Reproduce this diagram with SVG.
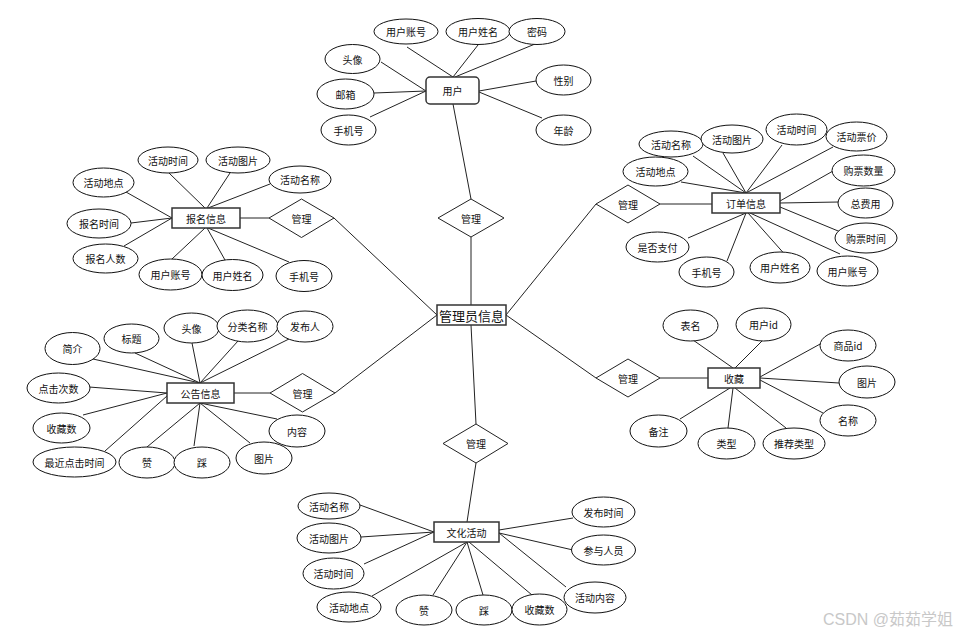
<svg xmlns="http://www.w3.org/2000/svg" width="972" height="637" viewBox="0 0 972 637">
<style>
.bg{fill:#fff}
.c path{stroke:#222;stroke-width:1;fill:none}
.e{fill:#fff;stroke:#111;stroke-width:1}
.r{fill:#fff;stroke:#333;stroke-width:1.5}
.d{fill:#fff;stroke:#222;stroke-width:1}
text{font-family:"Noto Sans CJK SC","Liberation Sans",sans-serif;font-size:10px;fill:#111;text-anchor:middle;dominant-baseline:central}
.big{font-size:13px}
.wm{font-family:"Liberation Sans","Noto Sans CJK SC",sans-serif;font-size:16px;fill:#c8c8c8;text-anchor:start;dominant-baseline:auto}
</style>
<rect class="bg" x="0" y="0" width="972" height="637"/>
<g id="connectors" class="c">
<path d="M407 47L453 77M478 45L453 77M535 44L455 77M381 62L426 91M374 93L426 91M370 117L426 91M536 81L479 91M542 118L479 92M453 104L471 199M471 237L471 305"/>
<path d="M169 173L205 208M230 173L207 208M270 184L208 208M126 192L172 218M131 223L172 218M124 246L172 218M172 259L205 228M225 260L207 228M289 262L208 228M240 218L269 218M334 218L437 315"/>
<path d="M693 156L746 193M723 153L746 193M782 145L746 193M833 147L746 193M681 182L746 193M833 171L780 201M839 202L780 203M843 233L780 207M688 238L746 213M727 261L746 213M788 258L748 213M840 254L750 213M660 204L712 204M596 204L506 315"/>
<path d="M93 359L200 383M135 353L200 383M192 343L200 383M238 341L200 383M293 337L200 383M89 387L167 393M83 415L167 393M105 451L167 396M147 447L200 403M194 446L200 403M250 443L200 403M277 419L200 403M234 393L270 393M335 393L437 315"/>
<path d="M693 340L733 368M762 341L735 368M822 343L760 377M839 383L760 378M823 413L760 380M680 419L730 388M728 428L733 388M786 428L735 388M660 378L708 378M596 378L506 315"/>
<path d="M471 325L476 424M476 463L467 522M360 505L434 532M361 537L434 532M364 564L434 532M372 596L467 542M433 595L467 542M483 595L467 542M532 595L469 542M566 587L499 533M573 518L499 530M573 550L499 533"/>
</g>
<g id="admin"><rect class="r" x="437" y="305" width="69" height="20"/><text class="big" x="471.5" y="315">管理员信息</text></g>
<g id="rel-user"><polygon class="d" points="438,218 471,199 504,218 471,237"/><text x="471" y="218">管理</text></g>
<g id="rel-signup"><polygon class="d" points="269,218 301.5,199 334,218 301.5,237.5"/><text x="301.5" y="218">管理</text></g>
<g id="rel-order"><polygon class="d" points="596,204 628,185 660,204 628,223"/><text x="628" y="204">管理</text></g>
<g id="rel-notice"><polygon class="d" points="270,393 302.5,373.5 335,393 302.5,412"/><text x="302.5" y="393">管理</text></g>
<g id="rel-fav"><polygon class="d" points="596,378 628,359 660,378 628,397"/><text x="628" y="378">管理</text></g>
<g id="rel-culture"><polygon class="d" points="443,443.5 476,424 508,443.5 476,463"/><text x="476" y="443.5">管理</text></g>

<g id="user"><rect class="r" x="426" y="77" width="53" height="27" rx="4"/><text x="452.5" y="90.5">用户</text></g>
<g id="user-attrs">
<g id="u1"><ellipse class="e" cx="406" cy="31.5" rx="32" ry="12.5"/><text x="406" y="31.5">用户账号</text></g>
<g id="u2"><ellipse class="e" cx="478" cy="31.5" rx="32" ry="13"/><text x="478" y="31.5">用户姓名</text></g>
<g id="u3"><ellipse class="e" cx="537" cy="31.5" rx="28" ry="13"/><text x="537" y="31.5">密码</text></g>
<g id="u4"><ellipse class="e" cx="352.5" cy="59" rx="27.5" ry="14.5"/><text x="352.5" y="59">头像</text></g>
<g id="u5"><ellipse class="e" cx="345.5" cy="94" rx="28.5" ry="15"/><text x="345.5" y="94">邮箱</text></g>
<g id="u6"><ellipse class="e" cx="348.5" cy="130" rx="27.5" ry="15"/><text x="348.5" y="130">手机号</text></g>
<g id="u7"><ellipse class="e" cx="563.5" cy="80" rx="27.5" ry="15"/><text x="563.5" y="80">性别</text></g>
<g id="u8"><ellipse class="e" cx="563.5" cy="130" rx="27.5" ry="15"/><text x="563.5" y="130">年龄</text></g>
</g>

<g id="signup"><rect class="r" x="172" y="208" width="68" height="20"/><text x="206" y="218">报名信息</text></g>
<g id="signup-attrs">
<g><ellipse class="e" cx="168" cy="160" rx="30" ry="13"/><text x="168" y="160">活动时间</text></g>
<g><ellipse class="e" cx="238" cy="160" rx="32" ry="13"/><text x="238" y="160">活动图片</text></g>
<g><ellipse class="e" cx="300" cy="179.5" rx="31" ry="13.5"/><text x="300" y="179.5">活动名称</text></g>
<g><ellipse class="e" cx="103.5" cy="182.5" rx="30.5" ry="14.5"/><text x="103.5" y="182.5">活动地点</text></g>
<g><ellipse class="e" cx="99" cy="223.5" rx="32" ry="14.5"/><text x="99" y="223.5">报名时间</text></g>
<g><ellipse class="e" cx="105.5" cy="258.5" rx="32.5" ry="14.5"/><text x="105.5" y="258.5">报名人数</text></g>
<g><ellipse class="e" cx="170.5" cy="274.5" rx="31.5" ry="15.5"/><text x="170.5" y="274.5">用户账号</text></g>
<g><ellipse class="e" cx="232.5" cy="275" rx="30.5" ry="15.5"/><text x="232.5" y="275">用户姓名</text></g>
<g><ellipse class="e" cx="304" cy="276" rx="28" ry="15.5"/><text x="304" y="276">手机号</text></g>
</g>

<g id="order"><rect class="r" x="712" y="193" width="68" height="20"/><text x="746" y="203">订单信息</text></g>
<g id="order-attrs">
<g><ellipse class="e" cx="671" cy="144" rx="32" ry="13"/><text x="671" y="144">活动名称</text></g>
<g><ellipse class="e" cx="732" cy="139" rx="31" ry="14"/><text x="732" y="139">活动图片</text></g>
<g><ellipse class="e" cx="796.5" cy="129.5" rx="30.5" ry="15.5"/><text x="796.5" y="129.5">活动时间</text></g>
<g><ellipse class="e" cx="856.5" cy="136.5" rx="30.5" ry="14.5"/><text x="856.5" y="136.5">活动票价</text></g>
<g><ellipse class="e" cx="655.5" cy="171.5" rx="32.5" ry="14.5"/><text x="655.5" y="171.5">活动地点</text></g>
<g><ellipse class="e" cx="863.5" cy="170.5" rx="31.5" ry="15.5"/><text x="863.5" y="170.5">购票数量</text></g>
<g><ellipse class="e" cx="865.5" cy="203" rx="27.5" ry="15"/><text x="865.5" y="203">总费用</text></g>
<g><ellipse class="e" cx="866" cy="238" rx="31" ry="15"/><text x="866" y="238">购票时间</text></g>
<g><ellipse class="e" cx="847.5" cy="271" rx="30.5" ry="15"/><text x="847.5" y="271">用户账号</text></g>
<g><ellipse class="e" cx="780" cy="267.5" rx="30" ry="15.5"/><text x="780" y="267.5">用户姓名</text></g>
<g><ellipse class="e" cx="706.5" cy="272" rx="27.5" ry="15"/><text x="706.5" y="272">手机号</text></g>
<g><ellipse class="e" cx="657.5" cy="247" rx="31.5" ry="15"/><text x="657.5" y="247">是否支付</text></g>
</g>

<g id="notice"><rect class="r" x="167" y="383" width="67" height="20"/><text x="200.5" y="393">公告信息</text></g>
<g id="notice-attrs">
<g><ellipse class="e" cx="72.5" cy="348.5" rx="27.5" ry="16"/><text x="72.5" y="348.5">简介</text></g>
<g><ellipse class="e" cx="131.5" cy="338.5" rx="27.5" ry="14.5"/><text x="131.5" y="338.5">标题</text></g>
<g><ellipse class="e" cx="191.5" cy="328" rx="27.5" ry="15"/><text x="191.5" y="328">头像</text></g>
<g><ellipse class="e" cx="247.5" cy="326" rx="30.5" ry="16"/><text x="247.5" y="326">分类名称</text></g>
<g><ellipse class="e" cx="305" cy="326.5" rx="28" ry="15.5"/><text x="305" y="326.5">发布人</text></g>
<g><ellipse class="e" cx="58.5" cy="388" rx="31.5" ry="15"/><text x="58.5" y="388">点击次数</text></g>
<g><ellipse class="e" cx="61.5" cy="428" rx="28.5" ry="15"/><text x="61.5" y="428">收藏数</text></g>
<g><ellipse class="e" cx="74.5" cy="462" rx="41.5" ry="15"/><text x="74.5" y="462">最近点击时间</text></g>
<g><ellipse class="e" cx="147" cy="462.5" rx="28" ry="15.5"/><text x="147" y="462.5">赞</text></g>
<g><ellipse class="e" cx="202" cy="462.5" rx="28" ry="15.5"/><text x="202" y="462.5">踩</text></g>
<g><ellipse class="e" cx="264" cy="458" rx="28" ry="16"/><text x="264" y="458">图片</text></g>
<g><ellipse class="e" cx="297" cy="431" rx="28" ry="16"/><text x="297" y="431">内容</text></g>
</g>

<g id="fav"><rect class="r" x="708" y="368" width="52" height="20"/><text x="734" y="378">收藏</text></g>
<g id="fav-attrs">
<g><ellipse class="e" cx="690.5" cy="325.5" rx="27.5" ry="15.5"/><text x="690.5" y="325.5">表名</text></g>
<g><ellipse class="e" cx="763.5" cy="324.5" rx="27.5" ry="16.5"/><text x="763.5" y="324.5">用户id</text></g>
<g><ellipse class="e" cx="848" cy="345.5" rx="28" ry="15.5"/><text x="848" y="345.5">商品id</text></g>
<g><ellipse class="e" cx="867" cy="382" rx="28" ry="16"/><text x="867" y="382">图片</text></g>
<g><ellipse class="e" cx="848" cy="420.5" rx="28" ry="15.5"/><text x="848" y="420.5">名称</text></g>
<g><ellipse class="e" cx="658.5" cy="431" rx="28.5" ry="16"/><text x="658.5" y="431">备注</text></g>
<g><ellipse class="e" cx="726.5" cy="443.5" rx="28.5" ry="15.5"/><text x="726.5" y="443.5">类型</text></g>
<g><ellipse class="e" cx="794" cy="443.5" rx="31" ry="15.5"/><text x="794" y="443.5">推荐类型</text></g>
</g>

<g id="culture"><rect class="r" x="434" y="522" width="65" height="20"/><text x="466.5" y="532">文化活动</text></g>
<g id="culture-attrs">
<g><ellipse class="e" cx="329" cy="506" rx="31" ry="13"/><text x="329" y="506">活动名称</text></g>
<g><ellipse class="e" cx="329" cy="538" rx="32" ry="15"/><text x="329" y="538">活动图片</text></g>
<g><ellipse class="e" cx="333.5" cy="573.5" rx="30.5" ry="15.5"/><text x="333.5" y="573.5">活动时间</text></g>
<g><ellipse class="e" cx="349" cy="607" rx="32" ry="15"/><text x="349" y="607">活动地点</text></g>
<g><ellipse class="e" cx="424" cy="610" rx="28" ry="15"/><text x="424" y="610">赞</text></g>
<g><ellipse class="e" cx="484" cy="610" rx="28" ry="15"/><text x="484" y="610">踩</text></g>
<g><ellipse class="e" cx="539.5" cy="609.5" rx="27.5" ry="15.5"/><text x="539.5" y="609.5">收藏数</text></g>
<g><ellipse class="e" cx="595" cy="597.5" rx="31" ry="15.5"/><text x="595" y="597.5">活动内容</text></g>
<g><ellipse class="e" cx="603.5" cy="512" rx="31.5" ry="15"/><text x="603.5" y="512">发布时间</text></g>
<g><ellipse class="e" cx="603.5" cy="550" rx="32" ry="15"/><text x="603.5" y="550">参与人员</text></g>
</g>

<text class="wm" x="823" y="625">CSDN @茹茹学姐</text>
</svg>
